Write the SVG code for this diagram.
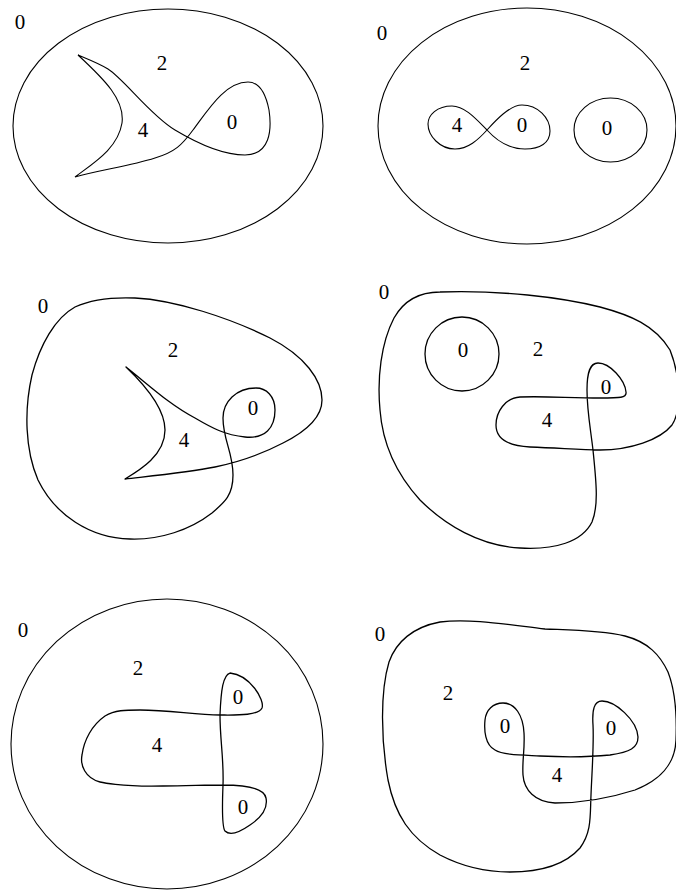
<svg xmlns="http://www.w3.org/2000/svg" width="676" height="892" viewBox="0 0 676 892">
<style>
.c{fill:none;stroke:#000;stroke-width:1.1}
.k{fill:none;stroke:#000;stroke-width:1.3;stroke-linejoin:round}
text{font-family:"Liberation Serif","Times New Roman",serif;font-size:21px;fill:#000;text-anchor:middle}
</style>
<rect width="676" height="892" fill="#fff"/>
<g id="panel1">
<ellipse class="c" cx="168" cy="126" rx="155" ry="117"/>
<path class="c" d="M78,55 C90,60 100,64 108,69 C125,80 150,115 175,130 C200,145 225,155 245,155 C270,155 272,130 269,110 C265,90 258,82 248,82 C225,82 208,110 193,130 C182,145 175,152 155,158 C130,166 100,170 75,177 C95,162 118,148 122,123 C125,100 105,80 78,55 Z"/>
<text x="20" y="29">0</text>
<text x="162" y="70">2</text>
<text x="143" y="137">4</text>
<text x="232" y="129">0</text>
</g>
<g id="panel2">
<ellipse class="c" cx="527" cy="126" rx="149" ry="118"/>
<path class="c" d="M487,130 C477,120 465,106 452,106 C437,106 428,115 428,124 C428,136 440,149 455,149 C468,149 478,140 487,130 C496,120 510,105 522,105 C538,105 550,118 550,131 C550,143 540,149 525,149 C508,149 496,140 487,130 Z"/>
<ellipse class="c" cx="610.5" cy="130" rx="36.5" ry="32"/>
<text x="382" y="40">0</text>
<text x="525" y="70">2</text>
<text x="457" y="132">4</text>
<text x="522" y="132">0</text>
<text x="607" y="135">0</text>
</g>
<g id="panel3">
<path class="k" d="M126,367 C150,386 170,405 195,418 C212,428 225,435 245,437 C265,439 275,428 275,410 C275,396 266,388 256,388 C236,388 223,402 223,418 C223,440 233,452 233,475 C233,495 225,502 212,513 C190,530 160,540 130,539 C90,538 55,515 38,480 C25,450 24,410 32,375 C40,345 55,318 75,307 C90,300 110,297 135,298 C175,300 230,318 270,338 C305,356 322,380 322,400 C322,418 305,432 283,443 C260,455 240,462 215,467 C190,472 160,475 125,479 C140,470 165,455 165,430 C165,410 148,388 126,367 Z"/>
<text x="43" y="313">0</text>
<text x="173" y="357">2</text>
<text x="184" y="447">4</text>
<text x="253" y="415">0</text>
</g>
<g id="panel4">
<path class="k" d="M440,292 C418,292 403,302 394,318 C381,343 377,378 380,410 C383,450 400,478 420,500 C445,525 480,546 520,548 C555,550 582,542 592,522 C599,505 596,480 593,450 C590,425 587,410 587,390 C587,372 590,363 598,363 C610,363 625,380 626,392 C627,398 620,398 600,398 C570,398 545,396 520,397 C505,398 496,412 496,425 C496,440 510,446 530,447 C560,448 580,450 600,450 C630,450 660,440 672,425 C682,410 680,375 670,350 C655,325 630,315 600,307 C560,297 500,290 440,292 Z"/>
<circle class="k" cx="462" cy="354" r="37"/>
<text x="384" y="299">0</text>
<text x="463" y="357">0</text>
<text x="538" y="356">2</text>
<text x="606" y="394">0</text>
<text x="547" y="427">4</text>
</g>
<g id="panel5">
<ellipse class="c" cx="167" cy="744" rx="156" ry="145"/>
<path class="k" d="M230,673 C223,675 221,690 220,715 C220,740 224,760 223,785 C222,810 222,827 225,831 C230,836 240,832 250,825 C262,817 268,808 266,798 C264,788 245,785 223,785 C205,785 185,786 163,786 C120,787 100,782 100,782 C85,778 80,765 82,755 C84,740 92,725 105,716 C115,710 125,710 140,710 C170,710 195,715 220,715 C235,715 258,716 262,708 C265,700 250,675 230,673 Z"/>
<text x="23" y="637">0</text>
<text x="138" y="675">2</text>
<text x="157" y="752">4</text>
<text x="238" y="704">0</text>
<text x="243" y="814">0</text>
</g>
<g id="panel6">
<path class="k" d="M440,622 C413,627 396,642 389,662 C380,692 381,740 388,780 C395,815 410,838 440,855 C465,868 490,872 510,872 C540,872 565,865 580,848 C592,832 590,815 591,795 C592,770 594,745 593,725 C592,710 594,701 602,701 C615,701 637,720 638,737 C638,748 630,752 610,755 C590,757 560,757 540,756 C520,755 503,755 495,750 C485,745 484,730 485,720 C486,710 493,703 503,703 C515,703 523,715 524,733 C525,750 522,760 523,775 C524,790 535,802 555,803 C580,803 610,798 635,790 C660,780 675,765 676,740 C677,715 675,690 668,672 C660,655 648,642 625,636 C600,630 570,630 545,629 C510,625 470,618 440,622 Z"/>
<text x="380" y="641">0</text>
<text x="448" y="700">2</text>
<text x="505" y="733">0</text>
<text x="611" y="735">0</text>
<text x="557" y="782">4</text>
</g>
</svg>
